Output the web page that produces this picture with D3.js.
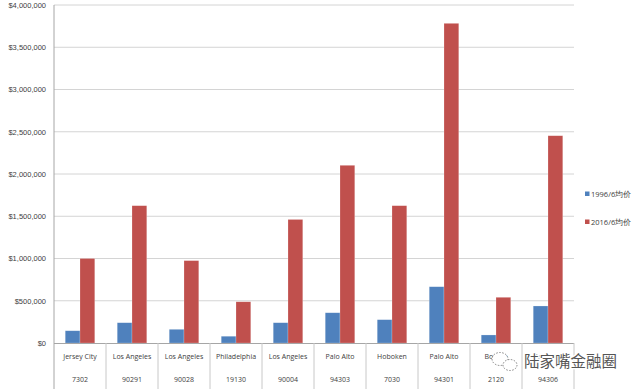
<!DOCTYPE html>
<html>
<head>
<meta charset="utf-8">
<script src="https://cdn.jsdelivr.net/npm/d3@7"></script>
<style>
  body { margin: 0; background: #fff; }
  svg { display: block; font-family: "Open Sans", "Noto Sans", sans-serif; }
</style>
</head>
<body>
<svg width="640" height="391"></svg>
<script>
"use strict";

var cities = ["Jersey City", "Los Angeles", "Los Angeles", "Philadelphia", "Los Angeles",
              "Palo Alto", "Hoboken", "Palo Alto", "Boston", "Palo Alto"];
var zips = ["7302", "90291", "90028", "19130", "90004", "94303", "7030", "94301", "2120", "94306"];
var seriesNames = ["1996/6均价", "2016/6均价"];
var price1996 = [145000, 240000, 162000, 80000, 240000, 358000, 276000, 666000, 95000, 438000];
var price2016 = [1000000, 1625000, 975000, 488000, 1462000, 2103000, 1625000, 3783000, 541000, 2453000];
var yTicks = [0, 500000, 1000000, 1500000, 2000000, 2500000, 3000000, 3500000, 4000000];
var colors = ["#4f81bd", "#c0504d"];

var Draw = (function() {
  var svg = d3.select("svg");
  var left = 54, right = 574, top = 5, bottom = 343;

  var x = d3.scaleBand()
      .domain(d3.range(cities.length))
      .range([left, right]);

  var x1 = d3.scaleBand()
      .domain([0, 1])
      .range([0, x.bandwidth()])
      .paddingOuter(0.76);

  var y = d3.scaleLinear()
      .domain([0, 4000000])
      .range([bottom, top]);

  var fmt = d3.format(",");

  // gridlines
  svg.append("g")
      .selectAll("line")
      .data(yTicks.slice(1))
      .join("line")
        .attr("x1", left).attr("x2", right)
        .attr("y1", d => y(d)).attr("y2", d => y(d))
        .attr("stroke", "#d4d4d4")
        .attr("stroke-width", 1);

  // y axis
  var yAxis = svg.append("g")
      .attr("transform", `translate(${left},0)`)
      .call(d3.axisLeft(y).tickValues(yTicks).tickSize(0).tickPadding(8)
        .tickFormat(d => "$" + fmt(d)));
  yAxis.select(".domain").remove();
  yAxis.selectAll("text")
      .attr("fill", "#404040")
      .style("font-size", "7.5px");

  svg.append("line")
      .attr("x1", left).attr("x2", left)
      .attr("y1", top).attr("y2", 389)
      .attr("stroke", "#a6a6a6");

  // bars
  var groups = svg.append("g")
    .selectAll("g")
    .data(d3.range(cities.length))
    .join("g")
      .attr("transform", i => `translate(${x(i)},0)`);

  groups.selectAll("rect")
    .data(i => [price1996[i], price2016[i]])
    .join("rect")
      .attr("x", (d, j) => x1(j))
      .attr("width", x1.bandwidth())
      .attr("y", d => y(d))
      .attr("height", d => y(0) - y(d))
      .attr("fill", (d, j) => colors[j])
      .attr("stroke", "#fff")
      .attr("stroke-opacity", 0.35)
      .attr("stroke-width", 0.6);

  // x axis baseline
  svg.append("line")
      .attr("x1", left).attr("x2", right)
      .attr("y1", bottom + 0.5).attr("y2", bottom + 0.5)
      .attr("stroke", "#a6a6a6");

  // category table separators
  svg.append("g")
    .selectAll("line")
    .data(d3.range(1, cities.length + 1))
    .join("line")
      .attr("x1", i => i < cities.length ? x(i) : right)
      .attr("x2", i => i < cities.length ? x(i) : right)
      .attr("y1", bottom).attr("y2", 389)
      .attr("stroke", "#c8c8c8");

  var labels = svg.append("g")
      .attr("fill", "#404040")
      .style("font-size", "7px")
      .attr("text-anchor", "middle");

  labels.selectAll("text.city")
    .data(cities)
    .join("text")
      .attr("class", "city")
      .attr("x", (d, i) => x(i) + x.bandwidth() / 2)
      .attr("y", 359)
      .text(d => d);

  labels.selectAll("text.zip")
    .data(zips)
    .join("text")
      .attr("class", "zip")
      .attr("x", (d, i) => x(i) + x.bandwidth() / 2)
      .attr("y", 382)
      .text(d => d);

  // legend
  var legend = svg.append("g")
    .selectAll("g")
    .data(seriesNames)
    .join("g")
      .attr("transform", (d, i) => `translate(585,${194 + i * 28})`);

  legend.append("rect")
      .attr("x", 0).attr("y", -2.5)
      .attr("width", 4.5).attr("height", 4.5)
      .attr("fill", (d, i) => colors[i]);

  legend.append("text")
      .attr("x", 6).attr("y", 2.8)
      .attr("fill", "#404040")
      .style("font-size", "7.5px")
      .text(d => d);

  // watermark
  var wm = svg.append("g").attr("transform", "translate(0,0)");
  wm.append("ellipse")
      .attr("cx", 500).attr("cy", 359).attr("rx", 8).attr("ry", 6.5)
      .attr("fill", "#fff").attr("stroke", "#666")
      .attr("stroke-dasharray", "1.5,1.5").attr("stroke-width", 0.8);
  wm.append("ellipse")
      .attr("cx", 510).attr("cy", 365).attr("rx", 7).attr("ry", 5.5)
      .attr("fill", "#fff").attr("stroke", "#666")
      .attr("stroke-dasharray", "1.5,1.5").attr("stroke-width", 0.8);
  wm.append("text")
      .attr("x", 524).attr("y", 367)
      .attr("fill", "#555")
      .attr("stroke", "#fff").attr("stroke-width", 2.5)
      .style("paint-order", "stroke")
      .style("font-family", "'Noto Sans CJK SC', sans-serif")
      .style("font-size", "15.5px")
      .text("陆家嘴金融圈");
});

Draw();
</script>
</body>
</html>
